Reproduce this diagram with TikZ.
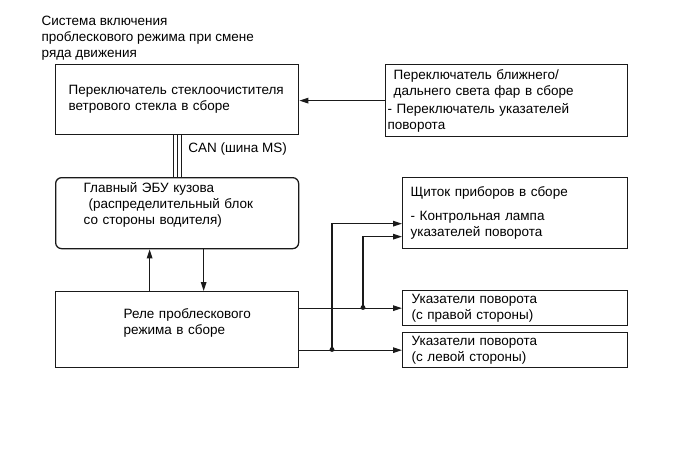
\documentclass[tikz,border=0pt]{standalone}
\usepackage{fontspec}
\setmainfont{Liberation Sans}
\usepackage{tikz}
\usetikzlibrary{arrows.meta,positioning}
\definecolor{flsLine}{HTML}{1A1A1A}
\newcommand{\flsfont}{\fontsize{13.5}{16}\selectfont}
\tikzset{
  panel/.style={rectangle,draw=flsLine,anchor=north west,align=left,
    inner ysep=0pt,font=\flsfont},
  panelround/.style={panel,rounded corners=6pt},
  caption/.style={anchor=north west,align=left,inner sep=0pt,font=\flsfont},
  arrow/.style={->,>={Triangle[length=9pt,width=5.5pt]}}
}

\begin{document}
\begin{tikzpicture}[x=1pt,y=-1pt,line width=1.3pt,draw=flsLine]
  \useasboundingbox (0,0) rectangle (689,464);
  \node[caption] (title) at (41,15) {Система включения\\проблескового режима при смене\\[0.5pt]ряда движения};
  \node[panel, minimum width=243pt, minimum height=70pt, inner xsep=13pt, text width=217pt] (wiper) at (55,64)
    {Переключатель стеклоочистителя\\ветрового стекла в сборе};
  \node[panel, minimum width=242pt, minimum height=72pt, inner xsep=2pt, text width=238pt] (hlsw) at (385,64)
    {\hspace*{6pt}Переключатель ближнего/\\\hspace*{6pt}дальнего света фар в сборе\\[2pt]- Переключатель указателей\\поворота};
  \node[panelround, minimum width=243pt, minimum height=71pt, inner xsep=28pt, text width=187pt] (ecu) at (55,177)
    {Главный ЭБУ кузова\\\hspace*{5pt}(распределительный блок\\со стороны водителя)\\[3pt]\mbox{}};
  \node[panel, minimum width=243pt, minimum height=76pt, inner xsep=28pt, text width=187pt] (relay) at (55,291)
    {\hspace*{40pt}Реле проблескового\\\hspace*{40pt}режима в сборе\\[0pt]\mbox{}};
  \node[panel, minimum width=225pt, minimum height=71pt, inner xsep=8pt, text width=209pt] (dash) at (402,177)
    {Щиток приборов в сборе\\[8pt]- Контрольная лампа\\указателей поворота};
  \node[panel, minimum width=225pt, minimum height=35pt, inner xsep=9pt, text width=207pt] (rturn) at (402,290)
    {Указатели поворота\\(с правой стороны)};
  \node[panel, minimum width=225pt, minimum height=35pt, inner xsep=9pt, text width=207pt] (lturn) at (402,332)
    {Указатели поворота\\(с левой стороны)};
  \node[anchor=west, inner sep=0pt, font=\flsfont] (canlbl) at ([xshift=10.5pt,yshift=-14pt]wiper.south) {CAN (шина MS)};

  % switch -> wiper switch
  \draw[arrow] (hlsw.west) -- (hlsw.west -| wiper.east);
  % CAN bus
  \foreach \dx in {-4,0,4}
    \draw ([xshift=\dx pt]wiper.south) -- ([xshift=\dx pt]ecu.north);
  \draw[arrow] ([xshift=-27.5pt]relay.north) -- ([xshift=-27.5pt]ecu.south);
  \draw[arrow] ([xshift=26.5pt]ecu.south) -- ([xshift=26.5pt]relay.north);
  % outputs of the relay
  \draw[arrow] (rturn.west -| relay.east) -- (rturn.west);
  \draw[arrow] (lturn.west -| relay.east) -- (lturn.west);
  \coordinate (jR) at (363,307.5);
  \coordinate (jL) at (332,349.5);
  \draw[arrow] (jR) |- ([yshift=-23.5pt]dash.west);
  \draw[arrow] (jL) |- ([yshift=-10.5pt]dash.west);
  \fill[flsLine] (jR) circle (2.4pt);
  \fill[flsLine] (jL) circle (2.4pt);
\end{tikzpicture}
\end{document}
